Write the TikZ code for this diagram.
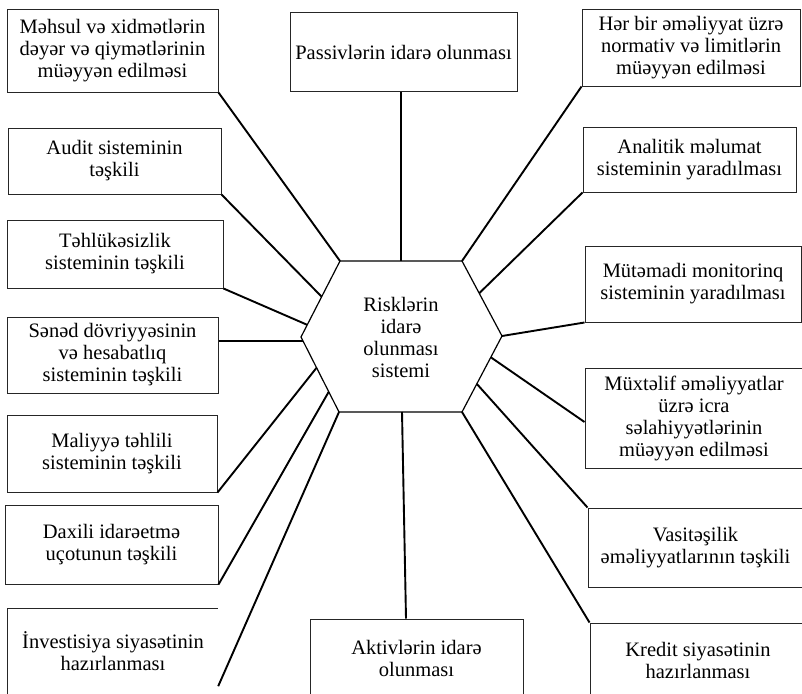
\documentclass[tikz,border=0pt]{standalone}
\usepackage{fontspec}
\setmainfont{Liberation Serif}
\usetikzlibrary{calc}
\begin{document}
\begin{tikzpicture}[x=1pt,y=-1pt,
  box/.style={draw=black!85, line width=1pt, inner sep=0pt, align=center,
    font=\fontsize{20.5}{22}\selectfont},
  plainbox/.style={inner sep=0pt, align=center, font=\fontsize{20.5}{22}\selectfont},
  conn/.style={line width=1.9pt, black},
  hexline/.style={line width=1.2pt, black, line join=miter}]
\useasboundingbox (0,0) rectangle (802,693);
\clip (0,0) rectangle (802,693);
% hexagon
\coordinate (H1) at (340,261);
\coordinate (H2) at (462,261);
\coordinate (H3) at (502,336);
\coordinate (H4) at (462,412);
\coordinate (H5) at (339,412);
\coordinate (H6) at (301,337);
\draw[hexline] (H1) -- (H2) -- (H3) -- (H4) -- (H5) -- (H6) -- cycle;
\node[plainbox] (center) at (401,337) {Risklərin\\idarə\\olunması\\sistemi};
% points on hexagon
\coordinate (p2) at (401,261);
\coordinate (p4) at ($(H6)!0.53!(H1)$);
\coordinate (p5) at ($(H6)!0.16!(H1)$);
\coordinate (p6) at ($(H6)!0.05!(H5)$);
\coordinate (p7) at ($(H2)!0.43!(H3)$);
\coordinate (p9) at ($(H3)!0.28!(H4)$);
\coordinate (p10) at ($(H3)!0.63!(H4)$);
\coordinate (p12) at ($(H6)!0.41!(H5)$);
\coordinate (p13) at ($(H6)!0.73!(H5)$);
\coordinate (p15) at (402,412);
% boxes
\node[box, minimum width=211pt, minimum height=82pt] (b1) at (112.5,51) {Məhsul və xidmətlərin\\dəyər və qiymətlərinin\\müəyyən edilməsi};
\node[box, minimum width=227pt, minimum height=78pt] (b2) at (403.5,52) {Passivlərin idarə olunması};
\node[box, minimum width=218pt, minimum height=76pt] (b3) at (691,48) {Hər bir əməliyyat üzrə\\normativ və limitlərin\\müəyyən edilməsi};
\node[box, minimum width=213pt, minimum height=66pt] (b4) at (114.5,161) {Audit sisteminin\\təşkili};
\node[box, minimum width=216pt, minimum height=68pt] (b5) at (115,254) {Təhlükəsizlik\\sisteminin təşkili};
\node[box, minimum width=211pt, minimum height=76pt] (b6) at (112.5,355) {Sənəd dövriyyəsinin\\və hesabatlıq\\sisteminin təşkili};
\node[box, minimum width=213pt, minimum height=65pt] (b7) at (689.5,159.5) {Analitik məlumat\\sisteminin yaradılması};
\node[box, minimum width=216pt, minimum height=76pt] (b8) at (693,284) {Mütəmadi monitorinq\\sisteminin yaradılması};
\node[box, minimum width=218pt, minimum height=100pt] (b9) at (694,418) {Müxtəlif əməliyyatlar\\üzrə icra\\səlahiyyətlərinin\\müəyyən edilməsi};
\node[box, minimum width=215pt, minimum height=79pt] (b10) at (695.5,547.5) {Vasitəşilik\\əməliyyatlarının təşkili};
\node[box, minimum width=216pt, minimum height=75pt] (b11) at (698,660.5) {Kredit siyasətinin\\hazırlanması};
\node[box, minimum width=210pt, minimum height=77pt] (b12) at (112,453.5) {Maliyyə təhlili\\sisteminin təşkili};
\node[box, minimum width=213pt, minimum height=79pt] (b13) at (111.5,544.5) {Daxili idarəetmə\\uçotunun təşkili};
\node[plainbox, minimum width=210pt, minimum height=85pt] (b14) at (113,651.5) {İnvestisiya siyasətinin\\hazırlanması};
\draw[draw=black!85, line width=1pt] (b14.south west) -- (b14.north west) -- (b14.north east);
\node[box, minimum width=213pt, minimum height=79pt] (b15) at (416.5,658.5) {Aktivlərin idarə\\olunması};
% connectors
\draw[conn] (b1.south east) -- (H1);
\draw[conn] (p2 |- b2.south) -- (p2);
\draw[conn] (b3.south west) -- (H2);
\draw[conn] (b4.south east) -- (p4);
\draw[conn] (b5.south east) -- (p5);
\draw[conn] (p6 -| b6.east) -- (p6);
\draw[conn] (b7.south west) -- (p7);
\draw[conn] (b8.south west) -- (H3);
\draw[conn] ([yshift=-4pt]b9.west) -- (p9);
\draw[conn] (b10.north west) -- (p10);
\draw[conn] (b11.north west) -- (H4);
\draw[conn] (b12.south east) -- (p12);
\draw[conn] (b13.south east) -- (p13);
\draw[conn] ([yshift=8pt]b14.south east) -- (H5);
\draw[conn] ([xshift=-10.5pt]b15.north) -- (p15);
\end{tikzpicture}
\end{document}
